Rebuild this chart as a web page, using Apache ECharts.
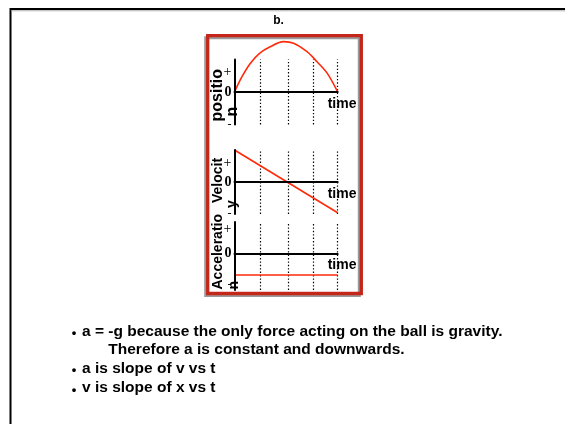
<!DOCTYPE html>
<html>
<head>
<meta charset="utf-8">
<script src="https://cdn.jsdelivr.net/npm/echarts@6/dist/echarts.min.js"></script>
<style>
  html, body { margin: 0; padding: 0; background: #fff; }
  #chart { width: 565px; height: 424px; }
</style>
</head>
<body>
<div id="chart"></div>
<script>
// Time marks (dotted guides) shared by the three panels
const timeMarks = [1, 2.1, 3.05, 4];

// Position of the ball over time
const posTime  = [0, 0.29, 0.61, 0.97, 1.38, 1.9, 2.29, 2.81, 3.2, 3.59, 4];
const posValue = [0, 0.47, 0.88, 1.19, 1.39, 1.55, 1.5, 1.24, 0.93, 0.58, 0];

// Velocity: falls linearly through zero
const velTime  = [0, 4];
const velValue = [1, -0.96];

// Acceleration: constant and negative (-g)
const accTime  = [0, 4];
const accValue = [-0.69, -0.69];

// Sign labels on each vertical axis
const posSigns = [0.62, 0, -1];
const velSigns = [0.59, 0, -1];
const accSigns = [0.78, 0, -1];

const notes = [
  'a = -g because the only force acting on the ball is gravity.',
  'Therefore a is constant and downwards.',
  'a is slope of v vs t',
  'v is slope of x vs t'
];

const RED = '#ff2a0a';
const BOLD = '"Liberation Sans", Arial, sans-serif';

function pairs(xs, ys) { return xs.map((x, i) => [x, ys[i]]); }

const panels = [
  { top: 59.5, height: 65, min: -1, max: 1,    signs: posSigns, data: pairs(posTime, posValue), smooth: 0.35 },
  { top: 150,  height: 64, min: -1, max: 1,    signs: velSigns, data: pairs(velTime, velValue), smooth: false },
  { top: 222,  height: 68, min: -1.17, max: 1, signs: accSigns, data: pairs(accTime, accValue), smooth: false }
];

const grids = [], xAxes = [], yAxes = [], series = [];
panels.forEach((p, i) => {
  grids.push({ left: 234.5, top: p.top, width: 103.2, height: p.height });
  xAxes.push({
    type: 'value', gridIndex: i, min: 0, max: 4, z: 10,
    axisLine: { show: true, onZero: true, lineStyle: { color: '#000', width: 2 } },
    axisTick: { show: false }, axisLabel: { show: false }, splitLine: { show: false },
    name: 'time', nameLocation: 'end', nameGap: -10,
    nameTextStyle: { fontFamily: BOLD, fontWeight: 'bold', fontSize: 14, color: '#000',
                     align: 'left', verticalAlign: 'top', padding: [5, 0, 0, 0] }
  });
  yAxes.push({
    type: 'value', gridIndex: i, min: p.min, max: p.max, z: 10,
    axisLine: { show: true, onZero: false, lineStyle: { color: '#000', width: 2 } },
    axisTick: { show: false }, splitLine: { show: false },
    axisLabel: {
      customValues: p.signs, margin: 3,
      formatter: v => v > 0 ? '{p|+}' : (v < 0 ? '{m|-}' : '{z|0}'),
      rich: {
        p: { fontFamily: '"Liberation Serif", serif', fontSize: 14, color: '#000' },
        m: { fontFamily: '"Liberation Serif", serif', fontSize: 12, color: '#000' },
        z: { fontFamily: '"Liberation Serif", serif', fontWeight: 'bold', fontSize: 14, color: '#000' }
      }
    }
  });
  series.push({
    type: 'line', xAxisIndex: i, yAxisIndex: i, data: p.data,
    smooth: p.smooth, showSymbol: false, clip: false, z: 5,
    lineStyle: { color: RED, width: 1.6 },
    markLine: {
      silent: true, symbol: 'none', label: { show: false },
      lineStyle: { color: '#000', type: [1.4, 2], width: 1.2 },
      data: timeMarks.map(t => ({ xAxis: t }))
    }
  });
});

function rotText(text, x, y, size) {
  return {
    type: 'text', x: x, y: y, rotation: Math.PI / 2, z: 20,
    style: { text: text, font: 'bold ' + size + 'px ' + BOLD, fill: '#000',
             align: 'left', verticalAlign: 'middle', textAlign: 'left', textVerticalAlign: 'middle' }
  };
}

function plainText(text, x, y, font, align) {
  return {
    type: 'text', x: x, y: y, z: 20,
    style: { text: text, font: font, fill: '#000',
             align: align || 'left', verticalAlign: 'middle',
             textAlign: align || 'left', textVerticalAlign: 'middle' }
  };
}

const noteFont = 'bold 15.5px ' + BOLD;
const bulletFont = 'bold 13px ' + BOLD;

const graphics = [
  // slide frame
  { type: 'rect', shape: { x: 10.5, y: 9, width: 700, height: 600 }, z: 1,
    style: { fill: 'none', stroke: '#000', lineWidth: 2 } },
  { type: 'line', shape: { x1: 11.5, y1: 10.8, x2: 565, y2: 10.8 }, z: 1,
    style: { stroke: '#b0b0b0', lineWidth: 1 } },
  // panel frame with shadow
  { type: 'rect', shape: { x: 205.7, y: 37.7, width: 153.6, height: 257.8 }, z: 1,
    style: { fill: 'none', stroke: '#9a9a9a', lineWidth: 3 } },
  { type: 'rect', shape: { x: 207.7, y: 35.7, width: 153.6, height: 257.8 }, z: 2,
    style: { fill: 'none', stroke: '#c4261a', lineWidth: 3.3 } },
  plainText('b.', 278.5, 20.5, 'bold 12px ' + BOLD, 'center'),
  // axis titles (wrapped onto a second line)
  rotText('positio', 218, 121.5, 16),
  rotText('n', 233, 116.5, 16),
  rotText('Velocit', 218.3, 203, 14),
  rotText('y', 232.5, 208, 14),
  rotText('Acceleratio', 218, 289.5, 14),
  rotText('n', 234, 289.5, 14),
  // notes
  plainText('\u2022', 74, 333.3, bulletFont, 'center'),
  plainText(notes[0], 82, 331.3, noteFont),
  plainText(notes[1], 108.3, 349.6, noteFont),
  plainText('\u2022', 74, 370.6, bulletFont, 'center'),
  plainText(notes[2], 82, 368.6, noteFont),
  plainText('\u2022', 74, 390.1, bulletFont, 'center'),
  plainText(notes[3], 82, 388.1, noteFont)
];

const chart = echarts.init(document.getElementById('chart'), null, { renderer: 'canvas' });
chart.setOption({
  backgroundColor: '#fff',
  animation: false,
  grid: grids,
  xAxis: xAxes,
  yAxis: yAxes,
  series: series,
  graphic: { elements: graphics }
});
</script>
</body>
</html>
